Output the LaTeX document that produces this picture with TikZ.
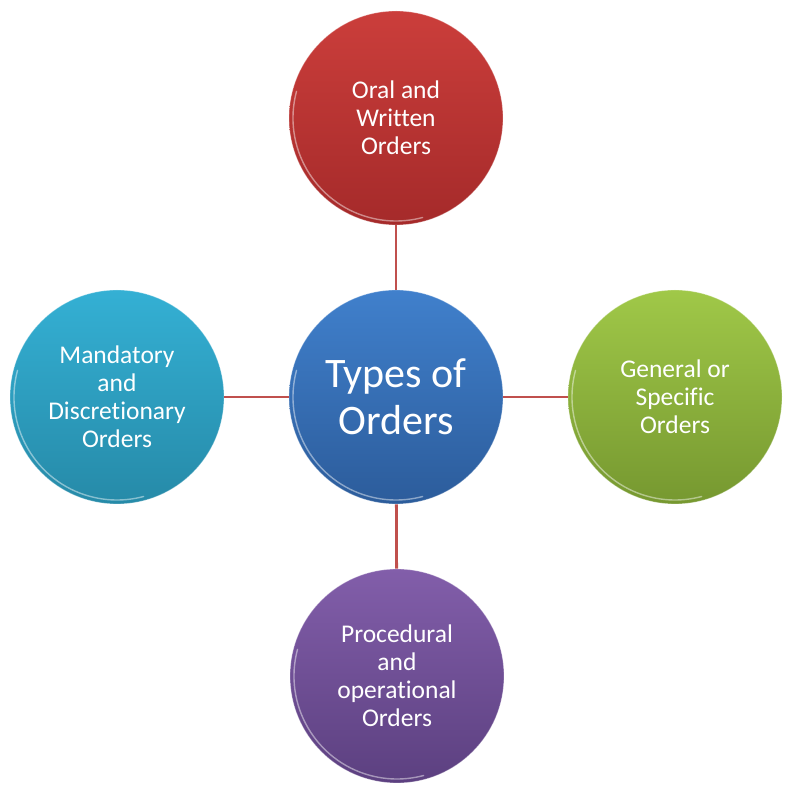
\documentclass[tikz,border=0pt]{standalone}
\usepackage{fontspec}
\setmainfont{Carlito}[Ligatures=CommonOff]
\definecolor{linkred}{RGB}{192,80,77}
\definecolor{redT}{RGB}{203,62,59}\definecolor{redB}{RGB}{165,42,42}
\definecolor{bluT}{RGB}{64,128,204}\definecolor{bluB}{RGB}{44,92,155}
\definecolor{teaT}{RGB}{52,176,212}\definecolor{teaB}{RGB}{38,138,168}
\definecolor{grnT}{RGB}{160,200,72}\definecolor{grnB}{RGB}{118,152,48}
\definecolor{purT}{RGB}{130,94,170}\definecolor{purB}{RGB}{92,64,128}
\tikzset{
  ball/.style={circle, minimum size=214pt, inner sep=0pt, text=white, align=center,
    font=\fontsize{25.5}{28}\selectfont, draw=white, draw opacity=0.35, line width=0.8pt},
  hub/.style={ball, font=\fontsize{42}{47}\selectfont},
  link/.style={draw=linkred, line width=2.8pt},
  rim/.style={draw=white, line width=1.4pt, opacity=0.45, line cap=round}
}
\begin{document}
\begin{tikzpicture}[x=1pt,y=1pt]
\useasboundingbox (0,0) rectangle (792,796);
\node[hub, top color=bluT, bottom color=bluB] (c) at (396,399) {Types of\\Orders};
\node[ball, top color=redT, bottom color=redB] (t) at (396,678) {Oral and\\Written\\Orders};
\node[ball, top color=purT, bottom color=purB] (b) at (397,120) {Procedural\\and\\operational\\Orders};
\node[ball, top color=teaT, bottom color=teaB] (l) at (117,399) {Mandatory\\and\\Discretionary\\Orders};
\node[ball, top color=grnT, bottom color=grnB] (r) at (675,399) {General or\\Specific\\Orders};
\draw[link] (c) -- (t);
\draw[link] (c) -- (b);
\draw[link] (c) -- (l);
\draw[link] (c) -- (r);
\foreach \n in {c,t,b,l,r}{
  \draw[rim] (\n.center) ++(165:103pt) arc[start angle=165, end angle=285, radius=103pt];
}
\end{tikzpicture}
\end{document}
